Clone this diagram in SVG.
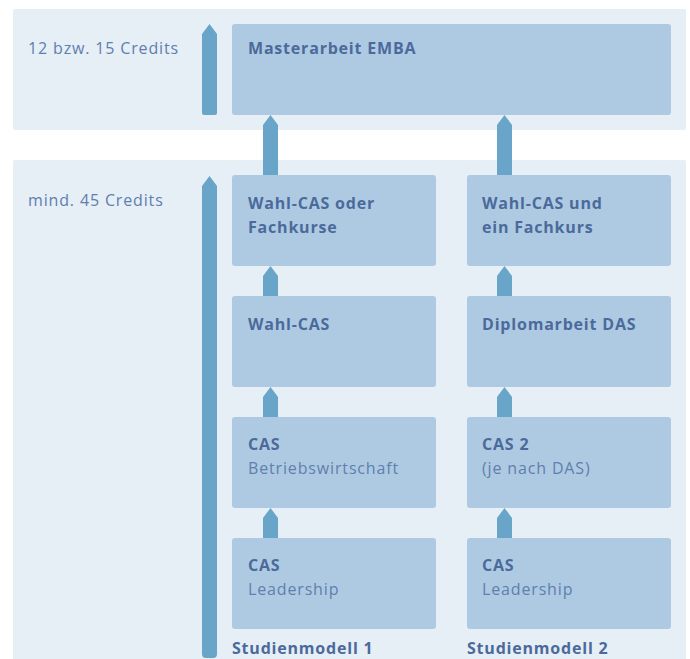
<svg xmlns="http://www.w3.org/2000/svg" width="690" height="659" viewBox="0 0 690 659">
<style>
.band{fill:#e6eef6}
.box{fill:#aecae2}
.arr{fill:#68a5c9}
.t{font-family:"Open Sans","Liberation Sans",sans-serif;font-size:16px;fill:#4b6a9b;font-weight:700;letter-spacing:0.8px}
.s{font-family:"Open Sans","Liberation Sans",sans-serif;font-size:16px;fill:#5f7fae;font-weight:400;letter-spacing:0.85px}
</style>
<rect width="690" height="659" fill="#ffffff"/>
<rect class="band" x="13" y="9" width="673" height="121" rx="2"/>
<rect class="band" x="13" y="160" width="673" height="510" rx="2"/>
<text class="s" x="28" y="54">12 bzw. 15 Credits</text>
<text class="s" x="28" y="206">mind. 45 Credits</text>
<g id="connectors">
<path class="arr" d="M202,34 L209.5,24 L217,34 L217,113 Q217,115 215,115 L204,115 Q202,115 202,113 Z"/>
<path class="arr" d="M202,186 L209.5,176 L217,186 L217,654 Q217,658 213,658 L206,658 Q202,658 202,654 Z"/>
<path class="arr" d="M263,125 L270.5,115 L278,125 L278,175 L263,175 Z"/>
<path class="arr" d="M497,125 L504.5,115 L512,125 L512,175 L497,175 Z"/>
<path class="arr" d="M263,276 L270.5,266 L278,276 L278,296 L263,296 Z"/>
<path class="arr" d="M497,276 L504.5,266 L512,276 L512,296 L497,296 Z"/>
<path class="arr" d="M263,397 L270.5,387 L278,397 L278,417 L263,417 Z"/>
<path class="arr" d="M497,397 L504.5,387 L512,397 L512,417 L497,417 Z"/>
<path class="arr" d="M263,518 L270.5,508 L278,518 L278,538 L263,538 Z"/>
<path class="arr" d="M497,518 L504.5,508 L512,518 L512,538 L497,538 Z"/>
</g>
<g id="masterarbeit">
<rect class="box" x="232" y="24" width="439" height="91" rx="3"/>
<text class="t" x="248" y="54">Masterarbeit EMBA</text>
</g>
<g id="m1-wahlcas-fach">
<rect class="box" x="232" y="175" width="204" height="91" rx="3"/>
<text class="t" x="248" y="209">Wahl-CAS oder</text>
<text class="t" x="248" y="233">Fachkurse</text>
</g>
<g id="m2-wahlcas-fachkurs">
<rect class="box" x="467" y="175" width="204" height="91" rx="3"/>
<text class="t" x="482" y="209">Wahl-CAS und</text>
<text class="t" x="482" y="233">ein Fachkurs</text>
</g>
<g id="m1-wahlcas">
<rect class="box" x="232" y="296" width="204" height="91" rx="3"/>
<text class="t" x="248" y="330">Wahl-CAS</text>
</g>
<g id="m2-diplomarbeit">
<rect class="box" x="467" y="296" width="204" height="91" rx="3"/>
<text class="t" x="482" y="330">Diplomarbeit DAS</text>
</g>
<g id="m1-cas-bw">
<rect class="box" x="232" y="417" width="204" height="91" rx="3"/>
<text class="t" x="248" y="450">CAS</text>
<text class="s" x="248" y="474">Betriebswirtschaft</text>
</g>
<g id="m2-cas2">
<rect class="box" x="467" y="417" width="204" height="91" rx="3"/>
<text class="t" x="482" y="450">CAS 2</text>
<text class="s" x="482" y="474">(je nach DAS)</text>
</g>
<g id="m1-cas-lead">
<rect class="box" x="232" y="538" width="204" height="91" rx="3"/>
<text class="t" x="248" y="571">CAS</text>
<text class="s" x="248" y="595">Leadership</text>
</g>
<g id="m2-cas-lead">
<rect class="box" x="467" y="538" width="204" height="91" rx="3"/>
<text class="t" x="482" y="571">CAS</text>
<text class="s" x="482" y="595">Leadership</text>
</g>
<text class="t" x="232" y="654">Studienmodell 1</text>
<text class="t" x="467" y="654">Studienmodell 2</text>
</svg>
